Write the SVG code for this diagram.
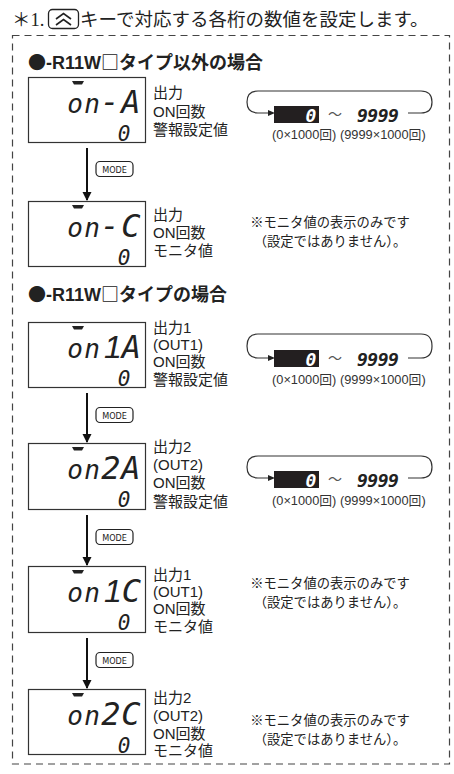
<svg xmlns="http://www.w3.org/2000/svg" width="454" height="774" viewBox="0 0 454 774">
<style>
text{font-family:"Liberation Sans","Noto Sans CJK JP",sans-serif;fill:#222}
.jp{font-family:"Noto Sans CJK JP",sans-serif}
.lbl{font-size:15px}
.hdr{font-size:18px;font-weight:bold}
.disp{fill:#fff;stroke:#333;stroke-width:1.2}
.seg{font-family:"DejaVu Sans Mono",monospace;font-style:italic;text-anchor:middle;fill:#222}
.lo{font-size:26px}
.hi{font-size:32px}
.sp{font-size:8px}
.small0{font-family:"DejaVu Sans Mono",monospace;font-style:italic;font-size:21px;text-anchor:middle;fill:#222}
.bar{fill:#222}
.btn{fill:#fff;stroke:#222;stroke-width:1.2}
.btnt{font-family:"DejaVu Sans Condensed","DejaVu Sans",sans-serif;font-size:9px;text-anchor:middle}
.conn{stroke:#111;stroke-width:2;fill:none}
.loop{stroke:#333;stroke-width:1.2;fill:none}
.cap{font-size:12.8px;fill:#333}
.note{font-size:13.3px;text-anchor:middle}
.range{font-family:"DejaVu Sans Mono",monospace;font-weight:bold;font-style:italic;font-size:18px}
</style>
<defs>
<marker id="ah" markerUnits="userSpaceOnUse" markerWidth="10" markerHeight="10" refX="8" refY="4.5" orient="auto">
<path d="M0,0 L9,4.5 L0,9 Z" fill="#111"/>
</marker>
</defs>

<g id="title">
<text x="12" y="26" style="font-family:'Liberation Serif','Noto Sans CJK JP',serif;font-size:18.5px">＊1.</text>
<rect x="48.5" y="9.5" width="30" height="19" rx="4" fill="none" stroke="#222" stroke-width="1.3"/>
<polyline points="56,19 63.5,13.5 71,19" fill="none" stroke="#222" stroke-width="1.6"/>
<polyline points="56,25 63.5,19.5 71,25" fill="none" stroke="#222" stroke-width="1.6"/>
<text x="80" y="26" class="jp" style="font-size:18.5px">キーで対応する各桁の数値を設定します。</text>
</g>

<rect x="12.5" y="35.5" width="437" height="728.5" fill="none" stroke="#444" stroke-width="1.2" stroke-dasharray="7 5"/>

<text x="28" y="69" class="hdr"><tspan class="jp">●</tspan>-R11W<tspan class="jp">□タイプ以外の場合</tspan></text>
<text x="28" y="301" class="hdr"><tspan class="jp">●</tspan>-R11W<tspan class="jp">□タイプの場合</tspan></text>

<g id="d1">
<rect class="disp" x="28.5" y="77.5" width="117" height="65"/>
<polygon class="bar" points="72,81 84,81 82,84.5 74,84.5"/>
<text class="seg" y="113"><tspan class="lo" x="75">o</tspan><tspan class="lo" x="92">n</tspan><tspan class="hi" x="110">-</tspan><tspan class="hi" x="131">A</tspan></text>
<text class="small0" x="124" y="141">0</text>
<text class="lbl" x="153" y="98">出力</text>
<text class="lbl" x="153" y="117">ON回数</text>
<text class="lbl" x="153" y="135">警報設定値</text>
</g>

<g id="d2">
<rect class="disp" x="28.5" y="201.5" width="117" height="65"/>
<polygon class="bar" points="72,205 84,205 82,208.5 74,208.5"/>
<text class="seg" y="237"><tspan class="lo" x="75">o</tspan><tspan class="lo" x="92">n</tspan><tspan class="hi" x="110">-</tspan><tspan class="hi" x="131">C</tspan></text>
<text class="small0" x="124" y="265">0</text>
<text class="lbl" x="153" y="220">出力</text>
<text class="lbl" x="153" y="238">ON回数</text>
<text class="lbl" x="153" y="256">モニタ値</text>
</g>

<g id="d3">
<rect class="disp" x="28.5" y="322.5" width="117" height="65"/>
<polygon class="bar" points="72,326 84,326 82,329.5 74,329.5"/>
<text class="seg" y="358"><tspan class="lo" x="75">o</tspan><tspan class="lo" x="92">n</tspan><tspan class="sp" x="101.5"> </tspan><tspan class="hi" x="113" style="font-family:'Liberation Sans',sans-serif">1</tspan><tspan class="hi" x="131.5">A</tspan></text>
<text class="small0" x="124" y="386">0</text>
<text class="lbl" x="153" y="333">出力1</text>
<text class="lbl" x="153" y="350">(OUT1)</text>
<text class="lbl" x="153" y="367">ON回数</text>
<text class="lbl" x="153" y="385">警報設定値</text>
</g>

<g id="d4">
<rect class="disp" x="28.5" y="443.5" width="117" height="66"/>
<polygon class="bar" points="72,447 84,447 82,450.5 74,450.5"/>
<text class="seg" y="479"><tspan class="lo" x="75">o</tspan><tspan class="lo" x="92">n</tspan><tspan class="hi" x="111">2</tspan><tspan class="hi" x="131">A</tspan></text>
<text class="small0" x="124" y="507">0</text>
<text class="lbl" x="153" y="452">出力2</text>
<text class="lbl" x="153" y="470">(OUT2)</text>
<text class="lbl" x="153" y="488">ON回数</text>
<text class="lbl" x="153" y="507">警報設定値</text>
</g>

<g id="d5">
<rect class="disp" x="28.5" y="566.5" width="117" height="66"/>
<polygon class="bar" points="72,570 84,570 82,573.5 74,573.5"/>
<text class="seg" y="602"><tspan class="lo" x="75">o</tspan><tspan class="lo" x="92">n</tspan><tspan class="sp" x="101.5"> </tspan><tspan class="hi" x="113" style="font-family:'Liberation Sans',sans-serif">1</tspan><tspan class="hi" x="131.5">C</tspan></text>
<text class="small0" x="124" y="630">0</text>
<text class="lbl" x="153" y="580">出力1</text>
<text class="lbl" x="153" y="597">(OUT1)</text>
<text class="lbl" x="153" y="614">ON回数</text>
<text class="lbl" x="153" y="632">モニタ値</text>
</g>

<g id="d6">
<rect class="disp" x="28.5" y="689.5" width="117" height="65"/>
<polygon class="bar" points="72,693 84,693 82,696.5 74,696.5"/>
<text class="seg" y="725"><tspan class="lo" x="75">o</tspan><tspan class="lo" x="92">n</tspan><tspan class="hi" x="111">2</tspan><tspan class="hi" x="131">C</tspan></text>
<text class="small0" x="124" y="753">0</text>
<text class="lbl" x="153" y="703">出力2</text>
<text class="lbl" x="153" y="721">(OUT2)</text>
<text class="lbl" x="153" y="739">ON回数</text>
<text class="lbl" x="153" y="756">モニタ値</text>
</g>

<g id="connectors">
<line class="conn" x1="87" y1="148" x2="87" y2="200" marker-end="url(#ah)"/>
<line class="conn" x1="87" y1="393" x2="87" y2="442" marker-end="url(#ah)"/>
<line class="conn" x1="87" y1="515" x2="87" y2="565" marker-end="url(#ah)"/>
<line class="conn" x1="87" y1="638" x2="87" y2="688" marker-end="url(#ah)"/>
</g>

<g id="mode1"><rect class="btn" x="96" y="161.5" width="37" height="15" rx="4"/><text class="btnt" x="114.5" y="172.5">MODE</text></g>
<g id="mode2"><rect class="btn" x="96" y="407.5" width="37" height="15" rx="4"/><text class="btnt" x="114.5" y="418.5">MODE</text></g>
<g id="mode3"><rect class="btn" x="96" y="529.5" width="37" height="15" rx="4"/><text class="btnt" x="114.5" y="540.5">MODE</text></g>
<g id="mode4"><rect class="btn" x="96" y="652.5" width="37" height="15" rx="4"/><text class="btnt" x="114.5" y="663.5">MODE</text></g>

<g id="r1">
<path class="loop" d="M408,113 H421 Q432,113 432,102 Q432,91 421,91 H258 Q247,91 247,102 Q247,113 258,113 H268"/>
<polygon points="268,110 275,113 268,116" fill="#222"/>
<rect x="274" y="106" width="45" height="17" fill="#231f20"/>
<text class="range" x="311" y="121.5" text-anchor="middle" style="fill:#fff">0</text>
<text class="jp" x="335" y="119" text-anchor="middle" style="font-size:14px;fill:#555">～</text>
<text class="range" x="357" y="121.5" letter-spacing="-0.5">9999</text>
<text class="cap" x="272" y="139">(0×1000回) (9999×1000回)</text>
</g>

<g id="r2">
<path class="loop" d="M408,358 H421 Q432,358 432,346 Q432,334 421,334 H258 Q247,334 247,346 Q247,358 258,358 H268"/>
<polygon points="268,355 275,358 268,361" fill="#222"/>
<rect x="274" y="350" width="45" height="17" fill="#231f20"/>
<text class="range" x="311" y="365.5" text-anchor="middle" style="fill:#fff">0</text>
<text class="jp" x="335" y="363" text-anchor="middle" style="font-size:14px;fill:#555">～</text>
<text class="range" x="357" y="365.5" letter-spacing="-0.5">9999</text>
<text class="cap" x="272" y="384">(0×1000回) (9999×1000回)</text>
</g>

<g id="r3">
<path class="loop" d="M408,478 H421 Q432,478 432,467 Q432,456 421,456 H258 Q247,456 247,467 Q247,478 258,478 H268"/>
<polygon points="268,475 275,478 268,481" fill="#222"/>
<rect x="274" y="471" width="45" height="17" fill="#231f20"/>
<text class="range" x="311" y="486.5" text-anchor="middle" style="fill:#fff">0</text>
<text class="jp" x="335" y="484" text-anchor="middle" style="font-size:14px;fill:#555">～</text>
<text class="range" x="357" y="486.5" letter-spacing="-0.5">9999</text>
<text class="cap" x="272" y="505">(0×1000回) (9999×1000回)</text>
</g>

<g id="n1"><text class="note jp" x="330" y="227">※モニタ値の表示のみです</text><text class="note jp" x="330" y="246">（設定ではありません）。</text></g>
<g id="n2"><text class="note jp" x="330" y="588">※モニタ値の表示のみです</text><text class="note jp" x="330" y="607">（設定ではありません）。</text></g>
<g id="n3"><text class="note jp" x="330" y="725">※モニタ値の表示のみです</text><text class="note jp" x="330" y="744">（設定ではありません）。</text></g>
</svg>
